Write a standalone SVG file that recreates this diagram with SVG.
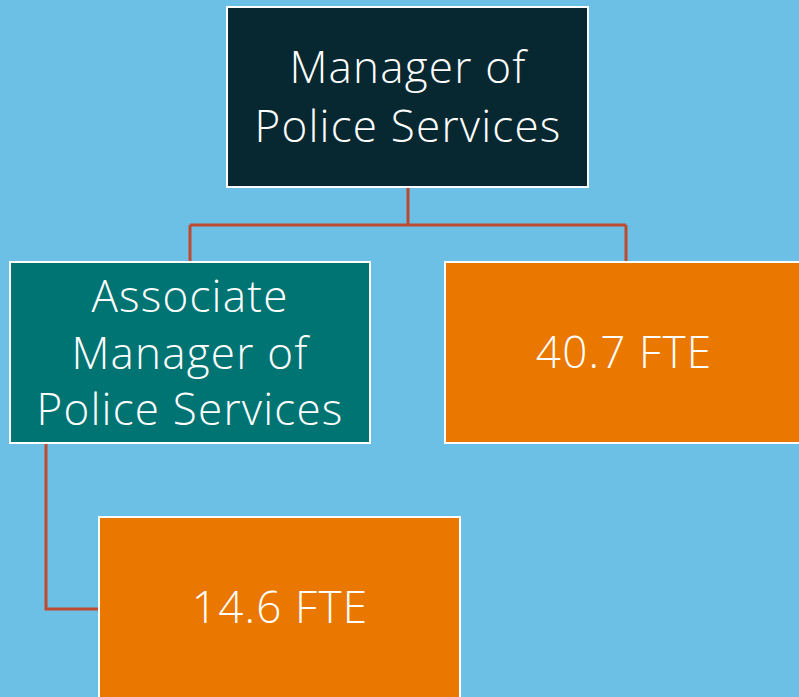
<svg xmlns="http://www.w3.org/2000/svg" width="799" height="697" viewBox="0 0 799 697">
  <style>
    .box { stroke: #ffffff; stroke-width: 2; }
    .lbl { font-family: "Open Sans", "Noto Sans", sans-serif; font-size: 44px; font-weight: 300; letter-spacing: 1.2px; fill: #ffffff; text-anchor: middle; }
    .link { fill: none; stroke: #BE4B30; stroke-width: 3; }
  </style>
  <rect width="799" height="697" fill="#6CC0E5"/>

  <g id="connectors">
    <path class="link" d="M408 187 V225 M190 225 H626 M190 225 V262 M626 225 V262"/>
    <path class="link" d="M46 443 V609 H99"/>
  </g>

  <g id="manager">
    <rect class="box" x="227" y="7" width="361" height="180" fill="#072830"/>
    <text class="lbl" x="408" y="83">Manager of</text>
    <text class="lbl" x="408" y="142">Police Services</text>
  </g>

  <g id="associate-manager">
    <rect class="box" x="10" y="262" width="360" height="181" fill="#007373"/>
    <text class="lbl" x="190" y="312">Associate</text>
    <text class="lbl" x="190" y="369">Manager of</text>
    <text class="lbl" x="190" y="425">Police Services</text>
  </g>

  <g id="fte-40-7">
    <rect class="box" x="445" y="262" width="360" height="181" fill="#E97700"/>
    <text class="lbl" x="624" y="368">40.7 FTE</text>
  </g>

  <g id="fte-14-6">
    <rect class="box" x="99" y="517" width="361" height="190" fill="#E97700"/>
    <text class="lbl" x="280" y="623">14.6 FTE</text>
  </g>
</svg>
